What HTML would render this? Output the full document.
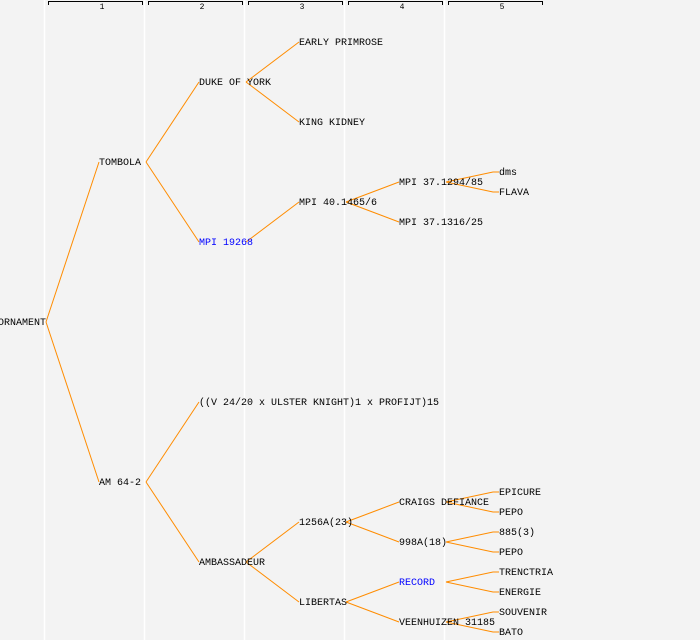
<!DOCTYPE html>
<html><head><meta charset="utf-8"><style>
html,body{margin:0;padding:0;background:#f3f3f3;}
svg{display:block}
text{font-family:"Liberation Mono","DejaVu Sans Mono",monospace;font-size:10px;fill:#000}
</style></head><body>
<svg width="700" height="640" viewBox="0 0 700 640" xmlns="http://www.w3.org/2000/svg">
<rect width="700" height="640" fill="#f3f3f3"/>
<g stroke="#ffffff" stroke-width="1.5">
<line x1="44.5" y1="0" x2="44.5" y2="640"/>
<line x1="144.5" y1="0" x2="144.5" y2="640"/>
<line x1="244.5" y1="0" x2="244.5" y2="640"/>
<line x1="344.5" y1="0" x2="344.5" y2="640"/>
<line x1="444.5" y1="0" x2="444.5" y2="640"/>
</g>
<g stroke="#000" stroke-width="1" fill="none">
<polyline points="48.5,5 48.5,1.5 142.5,1.5 142.5,5"/>
<polyline points="148.5,5 148.5,1.5 242.5,1.5 242.5,5"/>
<polyline points="248.5,5 248.5,1.5 342.5,1.5 342.5,5"/>
<polyline points="348.5,5 348.5,1.5 442.5,1.5 442.5,5"/>
<polyline points="448.5,5 448.5,1.5 542.5,1.5 542.5,5"/>
</g>
<g text-anchor="middle">
<text x="102" y="9" style="font-size:8px">1</text>
<text x="202" y="9" style="font-size:8px">2</text>
<text x="302" y="9" style="font-size:8px">3</text>
<text x="402" y="9" style="font-size:8px">4</text>
<text x="502" y="9" style="font-size:8px">5</text>
</g>
<g stroke="#ff8c00" stroke-width="1" fill="none">
<line x1="46" y1="322" x2="99" y2="162"/>
<line x1="46" y1="322" x2="99" y2="482"/>
<line x1="146" y1="162" x2="199" y2="82"/>
<line x1="146" y1="162" x2="199" y2="242"/>
<line x1="246" y1="82" x2="299" y2="42"/>
<line x1="246" y1="82" x2="299" y2="122"/>
<line x1="246" y1="242" x2="299" y2="202"/>
<line x1="346" y1="202" x2="399" y2="182"/>
<line x1="346" y1="202" x2="399" y2="222"/>
<polyline points="446,182 493,172 499,172"/>
<polyline points="446,182 493,192 499,192"/>
<line x1="146" y1="482" x2="199" y2="402"/>
<line x1="146" y1="482" x2="199" y2="562"/>
<line x1="246" y1="562" x2="299" y2="522"/>
<line x1="246" y1="562" x2="299" y2="602"/>
<line x1="346" y1="522" x2="399" y2="502"/>
<line x1="346" y1="522" x2="399" y2="542"/>
<line x1="346" y1="602" x2="399" y2="582"/>
<line x1="346" y1="602" x2="399" y2="622"/>
<polyline points="446,502 493,492 499,492"/>
<polyline points="446,502 493,512 499,512"/>
<polyline points="446,542 493,532 499,532"/>
<polyline points="446,542 493,552 499,552"/>
<polyline points="446,582 493,572 499,572"/>
<polyline points="446,582 493,592 499,592"/>
<polyline points="446,622 493,612 499,612"/>
<polyline points="446,622 493,632 499,632"/>
</g>
<g>
<text x="-2" y="325">ORNAMENT</text>
<text x="99" y="165">TOMBOLA</text>
<text x="99" y="485">AM 64-2</text>
<text x="199" y="85">DUKE OF YORK</text>
<text x="199" y="245" style="fill:#0000ff">MPI 19268</text>
<text x="199" y="405">((V 24/20 x ULSTER KNIGHT)1 x PROFIJT)15</text>
<text x="199" y="565">AMBASSADEUR</text>
<text x="299" y="45">EARLY PRIMROSE</text>
<text x="299" y="125">KING KIDNEY</text>
<text x="299" y="205">MPI 40.1465/6</text>
<text x="299" y="525">1256A(23)</text>
<text x="299" y="605">LIBERTAS</text>
<text x="399" y="185">MPI 37.1294/85</text>
<text x="399" y="225">MPI 37.1316/25</text>
<text x="399" y="505">CRAIGS DEFIANCE</text>
<text x="399" y="545">998A(18)</text>
<text x="399" y="585" style="fill:#0000ff">RECORD</text>
<text x="399" y="625">VEENHUIZEN 31185</text>
<text x="499" y="175">dms</text>
<text x="499" y="195">FLAVA</text>
<text x="499" y="495">EPICURE</text>
<text x="499" y="515">PEPO</text>
<text x="499" y="535">885(3)</text>
<text x="499" y="555">PEPO</text>
<text x="499" y="575">TRENCTRIA</text>
<text x="499" y="595">ENERGIE</text>
<text x="499" y="615">SOUVENIR</text>
<text x="499" y="635">BATO</text>
</g>
</svg>
</body></html>
